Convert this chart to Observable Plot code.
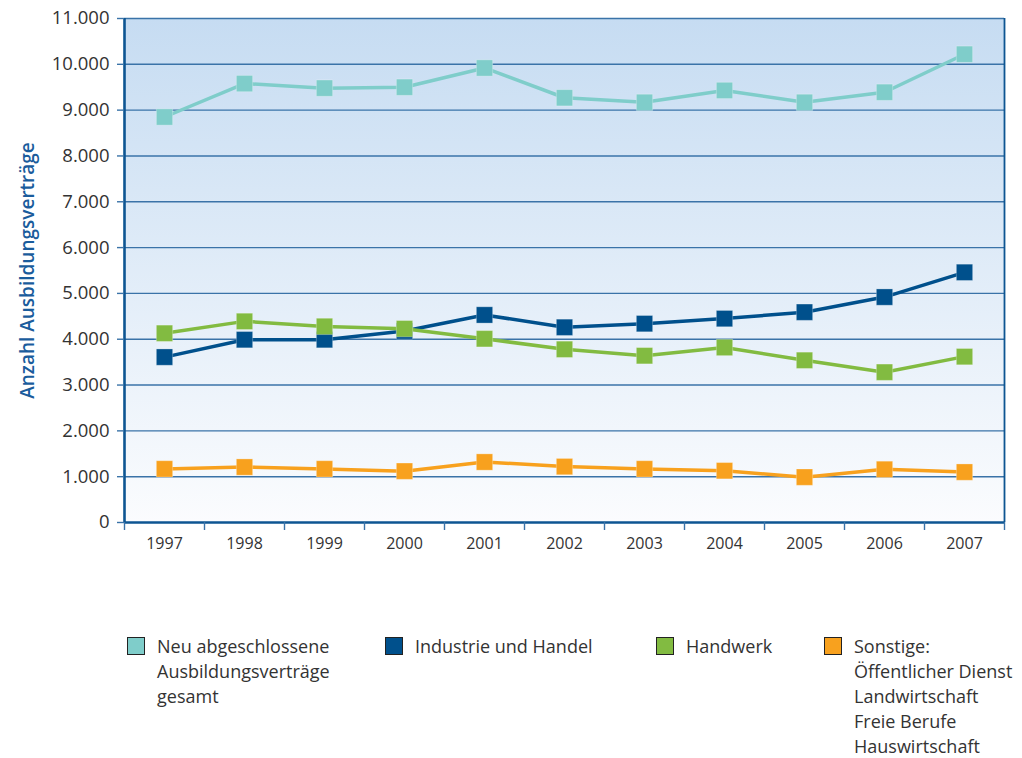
<!DOCTYPE html>
<html>
<head>
<meta charset="utf-8">
<script src="https://cdn.jsdelivr.net/npm/d3@7"></script>
<script src="https://cdn.jsdelivr.net/npm/@observablehq/plot@0.6"></script>
<style>
  body { margin: 0; background: #fff; font-family: "Open Sans", sans-serif; }
  #wrap { position: relative; width: 1022px; height: 758px; }
  #legend { position: absolute; left: 0; top: 634px; width: 1022px; height: 124px; }
  .item { position: absolute; top: 0; display: flex; align-items: flex-start; }
  .sw { width: 18px; height: 18px; box-sizing: border-box; border: 1.5px solid #222; margin-top: 3px; margin-right: 12px; flex: none; }
  .lab { font-size: 18px; line-height: 25px; color: #333; white-space: pre; }
</style>
</head>
<body>
<div id="wrap">
  <div id="chart"></div>
  <div id="legend"></div>
</div>
<script>
const years = [1997, 1998, 1999, 2000, 2001, 2002, 2003, 2004, 2005, 2006, 2007];
const gesamt = [8850, 9580, 9480, 9500, 9920, 9270, 9170, 9430, 9170, 9390, 10220];
const industrie = [3610, 3990, 3990, 4180, 4530, 4260, 4340, 4450, 4590, 4920, 5460];
const handwerk = [4130, 4390, 4280, 4230, 4010, 3780, 3640, 3820, 3540, 3280, 3620];
const sonstige = [1170, 1210, 1170, 1120, 1320, 1220, 1170, 1130, 990, 1160, 1100];
const yTicks = [0, 1000, 2000, 3000, 4000, 5000, 6000, 7000, 8000, 9000, 10000, 11000];
const seriesNames = [
  "Neu abgeschlossene\nAusbildungsverträge\ngesamt",
  "Industrie und Handel",
  "Handwerk",
  "Sonstige:\nÖffentlicher Dienst\nLandwirtschaft\nFreie Berufe\nHauswirtschaft"
];
const seriesColors = ["#7fcdca", "#00508c", "#82bb41", "#f8a11e"];
const seriesValues = [gesamt, industrie, handwerk, sonstige];

const rows = [];
seriesValues.forEach((vals, i) => vals.forEach((v, j) => rows.push({series: i, year: years[j], value: v})));

const xDomain = [years[0] - 0.5, years[years.length - 1] + 0.5];
const boundaries = years.map(y => y - 0.5).concat([years[years.length - 1] + 0.5]);
const fmt = d => d3.format(",")(d).replace(/,/g, ".");
const axisBlue = "#0d5592";
const gridBlue = "#3a73a8";

const marks = [
  Plot.frame({fill: "url(#bgGrad)", stroke: null}),
  Plot.gridY(yTicks.filter(d => d > 0), {stroke: gridBlue, strokeOpacity: 1, strokeWidth: 1.4}),
  Plot.ruleY([0], {stroke: axisBlue, strokeWidth: 2.6}),
  Plot.ruleX([xDomain[0]], {stroke: axisBlue, strokeWidth: 2.6}),
  Plot.ruleX([xDomain[1]], {stroke: axisBlue, strokeWidth: 1.8}),
  Plot.axisY({ticks: yTicks, tickFormat: fmt, tickSize: 7, tickPadding: 8, stroke: gridBlue, strokeWidth: 1.4, fill: "#333", fontSize: 18.5,
    label: "Anzahl Ausbildungsverträge", labelAnchor: "center", labelOffset: 104, labelArrow: "none"}),
  Plot.axisX({ticks: boundaries, tickFormat: () => "", tickSize: 8, stroke: gridBlue, strokeWidth: 1.4, label: null}),
  Plot.axisX({ticks: years, tickFormat: d => String(d), tickSize: 0, tickPadding: 15, fill: "#333", fontSize: 16, label: null})
];
seriesValues.forEach((vals, i) => {
  const data = rows.filter(r => r.series === i);
  marks.push(Plot.line(data, {x: "year", y: "value", stroke: seriesColors[i], strokeWidth: 3.5}));
  marks.push(Plot.dot(data, {x: "year", y: "value", symbol: "square", r: 9.2, fill: seriesColors[i], stroke: "#ffffff", strokeOpacity: 0.35, strokeWidth: 0.8}));
});

const chart = Plot.plot({
  width: 1022,
  height: 570,
  marginLeft: 124,
  marginRight: 18,
  marginTop: 18,
  marginBottom: 48,
  style: {fontFamily: "'Open Sans', sans-serif", background: "transparent"},
  x: {type: "linear", domain: xDomain},
  y: {domain: [0, 11000]},
  marks
});

const svg = d3.select(chart);
const defs = svg.insert("defs", ":first-child");
const grad = defs.append("linearGradient").attr("id", "bgGrad").attr("x1", 0).attr("y1", 0).attr("x2", 0).attr("y2", 1);
grad.append("stop").attr("offset", "0%").attr("stop-color", "#c6dcf2");
grad.append("stop").attr("offset", "100%").attr("stop-color", "#fbfcfe");
svg.selectAll("[aria-label='y-axis label'] text, [aria-label='y-axis label']")
  .attr("fill", "#1a5c9c").style("font-size", "19px").style("font-weight", "600");

document.getElementById("chart").appendChild(chart);

const legendX = [127, 385, 656, 824];
const legend = document.getElementById("legend");
seriesNames.forEach((name, i) => {
  const item = document.createElement("div");
  item.className = "item";
  item.style.left = legendX[i] + "px";
  const sw = document.createElement("div");
  sw.className = "sw";
  sw.style.background = seriesColors[i];
  const lab = document.createElement("div");
  lab.className = "lab";
  lab.textContent = name;
  item.appendChild(sw);
  item.appendChild(lab);
  legend.appendChild(item);
});
</script>
</body>
</html>
